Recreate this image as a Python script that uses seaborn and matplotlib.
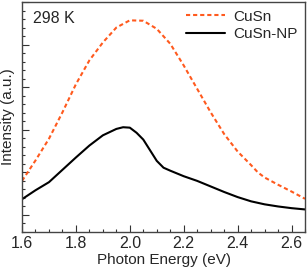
import numpy as np
import pandas as pd
import matplotlib
matplotlib.use('Agg')
import matplotlib.pyplot as plt
import seaborn as sns
from matplotlib.ticker import MultipleLocator, NullFormatter

# PL spectra (arbitrary intensity units)
energy_cusn = [1.60, 1.65, 1.70, 1.75, 1.80, 1.85, 1.90, 1.95, 2.00, 2.05, 2.10,
               2.15, 2.20, 2.25, 2.30, 2.35, 2.40, 2.45, 2.475, 2.50, 2.55, 2.60, 2.65]
intensity_cusn = [0.80, 1.28, 1.79, 2.41, 3.07, 3.63, 4.05, 4.40, 4.57, 4.56, 4.37,
                  4.02, 3.51, 2.96, 2.41, 1.90, 1.49, 1.17, 1.00, 0.88, 0.71, 0.55, 0.38]

energy_np = [1.60, 1.65, 1.70, 1.75, 1.80, 1.85, 1.90, 1.95, 1.975, 2.00, 2.025, 2.05,
             2.10, 2.125, 2.15, 2.20, 2.25, 2.30, 2.35, 2.40, 2.45, 2.50, 2.55, 2.60, 2.65]
intensity_np = [0.37, 0.58, 0.77, 1.06, 1.35, 1.63, 1.87, 2.02, 2.06, 2.05, 1.93, 1.77,
                1.27, 1.11, 1.04, 0.91, 0.80, 0.67, 0.54, 0.42, 0.32, 0.25, 0.20, 0.16, 0.13]

labels = ['CuSn', 'CuSn-NP']

df = pd.concat([
    pd.DataFrame({'E': energy_cusn, 'I': intensity_cusn, 'sample': labels[0]}),
    pd.DataFrame({'E': energy_np, 'I': intensity_np, 'sample': labels[1]}),
])

sns.set_style('ticks')
plt.rcParams['font.family'] = ['Liberation Sans', 'DejaVu Sans']

fig = plt.figure(figsize=(3.07, 2.68), dpi=100)
ax = fig.add_axes([0.0717, 0.1343, 0.9218, 0.8582])

sns.lineplot(data=df, x='E', y='I', hue='sample', style='sample',
             palette={'CuSn': '#ff5a1e', 'CuSn-NP': 'black'},
             dashes={'CuSn': (2, 1.4), 'CuSn-NP': ''},
             linewidth=1.5, ax=ax, sort=False)

ax.set_xlim(1.6, 2.65)
ax.set_ylim(-0.4, 5)
ax.xaxis.set_major_locator(MultipleLocator(0.2))
ax.xaxis.set_minor_locator(MultipleLocator(0.05))
ax.yaxis.set_major_locator(MultipleLocator(1))
ax.yaxis.set_minor_locator(MultipleLocator(0.2))
ax.yaxis.set_major_formatter(NullFormatter())
ax.tick_params(which='both', direction='in', labelsize=11.5, color='#333333')
ax.tick_params(which='major', length=5, width=0.8)
ax.tick_params(which='minor', length=2.5, width=0.8)
ax.tick_params(axis='x', pad=3)

for s in ax.spines.values():
    s.set_visible(True)
    s.set_linewidth(1.0)
    s.set_color('#444444')

ax.set_xlabel('Photon Energy (eV)', fontsize=11, labelpad=1.5)
ax.set_ylabel('Intensity (a.u.)', fontsize=11, va='center')
ax.yaxis.set_label_coords(-0.05, 0.5)
ax.text(0.038, 0.93, '298 K', transform=ax.transAxes, fontsize=11.5, va='center', ha='left')

leg = ax.legend(loc='upper right', frameon=False, fontsize=11, handlelength=2.6,
                handletextpad=0.5, labelspacing=0.25, borderaxespad=0.1)
leg.set_title(None)

fig.savefig('out.png', dpi=100)
